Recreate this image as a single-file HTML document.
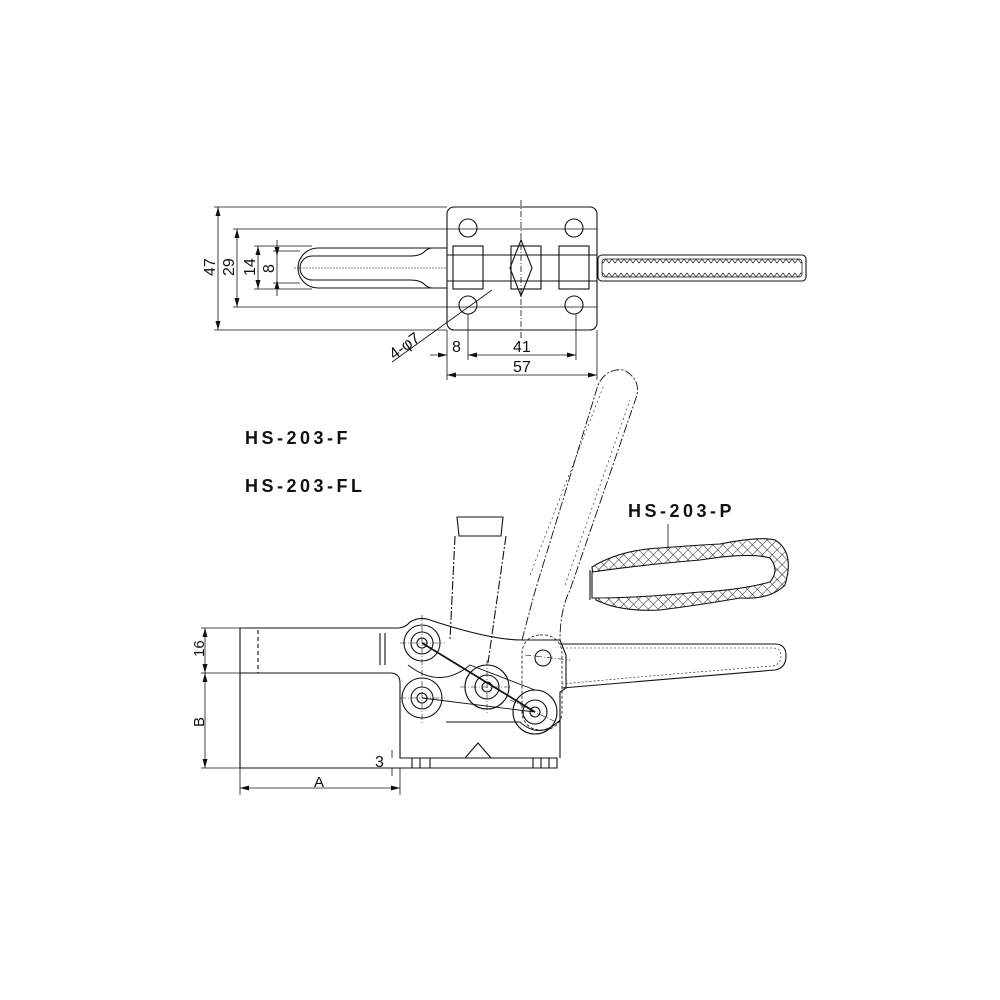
<!DOCTYPE html>
<html><head><meta charset="utf-8"><style>
html,body{margin:0;padding:0;background:#fff;}
svg{display:block;}
text{font-family:"Liberation Sans",sans-serif;fill:#111;}
.b{font-weight:bold;font-size:18px;letter-spacing:3.5px;}
</style></head><body>
<svg width="1000" height="1000" viewBox="0 0 1000 1000" xmlns="http://www.w3.org/2000/svg">
<defs>
<pattern id="hatch" width="7" height="7" patternUnits="userSpaceOnUse" patternTransform="rotate(45)">
<rect width="7" height="7" fill="#fff"/>
<path d="M0 0H7M0 0V7" stroke="#222" stroke-width="1"/>
</pattern>
<pattern id="zz" x="0" y="259" width="6" height="18" patternUnits="userSpaceOnUse">
<path d="M0 0 L3 4 L6 0 M0 18 L3 14 L6 18" fill="none" stroke="#222" stroke-width="0.7"/>
</pattern>
</defs>
<g fill="none" stroke="#111" stroke-width="1.1">
<!-- TOP VIEW -->
<rect x="447" y="207" width="150" height="123" rx="7"/>
<line x1="521" y1="200" x2="521" y2="340" stroke-dasharray="6,2,1,2" stroke-width="0.8"/>
<circle cx="468" cy="228" r="9"/><circle cx="574" cy="228" r="9"/>
<circle cx="468" cy="305" r="9"/><circle cx="574" cy="305" r="9"/>
<path d="M447 248 H432 Q428 248 424 252 Q420 256 410 256 H312 A12 12 0 0 0 312 280 H410 Q420 280 424 284 Q428 288 432 288 H447"/>
<path d="M318 248 A20 20 0 0 0 318 288" />
<line x1="318" y1="248" x2="432" y2="248"/><line x1="318" y1="288" x2="432" y2="288"/>
<line x1="294" y1="268" x2="447" y2="268" stroke-dasharray="2,1" stroke-width="0.6"/>
<rect x="453" y="246" width="30" height="43"/>
<rect x="511" y="246" width="30" height="43"/>
<rect x="559" y="246" width="30" height="43"/>
<line x1="447" y1="255" x2="597" y2="255"/><line x1="447" y1="281" x2="597" y2="281"/>
<path d="M521 240 L510 268 L521 296 L532 268Z"/>
<rect x="598" y="255" width="208" height="26" rx="4"/>
<rect x="602" y="259" width="200" height="18" rx="3" stroke-width="0.7" fill="url(#zz)"/>
<g stroke-width="0.8">
<line x1="214" y1="207" x2="447" y2="207"/><line x1="214" y1="330" x2="447" y2="330"/>
<line x1="233" y1="229" x2="597" y2="229"/><line x1="233" y1="307" x2="597" y2="307"/>
<line x1="254" y1="246" x2="312" y2="246"/><line x1="254" y1="289" x2="312" y2="289"/>
<line x1="273" y1="251" x2="300" y2="251"/><line x1="273" y1="283" x2="300" y2="283"/>
<line x1="218" y1="207" x2="218" y2="330"/><line x1="237" y1="229" x2="237" y2="307"/>
<line x1="258" y1="246" x2="258" y2="289"/><line x1="277" y1="240" x2="277" y2="296"/>
<line x1="447" y1="330" x2="447" y2="380"/><line x1="597" y1="330" x2="597" y2="380"/>
<line x1="468" y1="314" x2="468" y2="360"/><line x1="576" y1="314" x2="576" y2="360"/>
<line x1="430" y1="355" x2="447" y2="355"/>
<line x1="468" y1="355" x2="576" y2="355"/>
<line x1="447" y1="375" x2="597" y2="375"/>
<line x1="392" y1="362" x2="492" y2="290"/>
</g>
<!-- SIDE VIEW -->
<path d="M240 628 H398 Q405 628 410 622 Q420 616 430 620 Q490 640 522 640 H560 L566 655 V688 L560 692 V758"/>
<path d="M240 628 V768 H557 V758 H400 V683 Q400 673 390 673 H240"/>
<line x1="258" y1="630" x2="258" y2="673" stroke-dasharray="4,3"/>
<line x1="380" y1="633" x2="380" y2="665"/><line x1="385" y1="633" x2="385" y2="665"/>
<path d="M465 758 L478 743 L491 758"/>
<line x1="412" y1="758" x2="412" y2="768"/><line x1="420" y1="758" x2="420" y2="768"/><line x1="430" y1="758" x2="430" y2="768"/>
<line x1="533" y1="758" x2="533" y2="768"/><line x1="541" y1="758" x2="541" y2="768"/><line x1="549" y1="758" x2="549" y2="768"/>
<circle cx="422" cy="643" r="18"/><circle cx="422" cy="643" r="11"/><circle cx="422" cy="643" r="5"/>
<circle cx="422" cy="698" r="20"/><circle cx="422" cy="698" r="11"/><circle cx="422" cy="698" r="5"/>
<circle cx="487" cy="687" r="22"/><circle cx="487" cy="687" r="12"/><circle cx="487" cy="687" r="5"/>
<circle cx="535" cy="712" r="22"/><circle cx="535" cy="712" r="12"/><circle cx="535" cy="712" r="5"/>
<circle cx="543" cy="658" r="8"/>
<path d="M408 665 Q440 690 470 665 L535 690" stroke-width="0.9"/>
<line x1="422" y1="643" x2="535" y2="712" stroke-width="1.8"/>
<line x1="422" y1="698" x2="535" y2="712" stroke-width="0.9"/>
<path d="M446 722 H520 Q540 740 560 720" stroke-width="0.9"/>
<rect x="522" y="635" width="40" height="95" rx="18" stroke-dasharray="3,2" stroke-width="0.8"/>
<g stroke-width="0.6" stroke-dasharray="6,2,1,2">
<line x1="400" y1="643" x2="445" y2="643"/><line x1="422" y1="615" x2="422" y2="725"/>
<line x1="400" y1="698" x2="445" y2="698"/><line x1="460" y1="687" x2="512" y2="687"/>
<line x1="487" y1="660" x2="487" y2="715"/><line x1="510" y1="700" x2="560" y2="724"/>
<line x1="525" y1="655" x2="570" y2="660"/>
</g>
<path d="M560 644 H775 Q786 644 786 656 Q786 668 775 670 Q680 678 562 688" />
<path d="M562 648 H773 Q781 648 781 656 Q781 664 773 666 Q680 673 562 684" stroke-width="0.6" stroke-dasharray="2,2"/>
<path d="M522 640 Q535 590 540 575 L598 385 Q606 368 624 370 Q642 380 636 398 L570 590 Q560 610 560 640" stroke-dasharray="9,2,2,2" stroke-width="0.9"/>
<path d="M530 575 L604 385 M565 585 L630 400" stroke-dasharray="2,3" stroke-width="0.6"/>
<path d="M457 517 H503 L501 536 H459Z"/>
<line x1="455" y1="536" x2="450" y2="640" stroke-dasharray="9,2,2,2"/>
<line x1="506" y1="536" x2="488" y2="663" stroke-dasharray="9,2,2,2"/>
<path d="M592 567 Q620 550 660 548 Q700 545 720 544 Q760 536 775 540 Q795 552 785 585 Q770 600 740 598 Q700 605 660 610 Q620 612 596 600 Z" fill="url(#hatch)"/>
<path d="M592 572 Q640 565 700 560 Q750 552 770 558 Q780 570 770 582 Q740 590 700 592 Q640 598 592 598 Z" fill="#fff"/>
<line x1="590" y1="570" x2="590" y2="600"/>
<line x1="668" y1="524" x2="668" y2="548" stroke-width="0.8"/>
<g stroke-width="0.8">
<line x1="201" y1="628" x2="240" y2="628"/><line x1="201" y1="673" x2="240" y2="673"/><line x1="201" y1="768" x2="240" y2="768"/>
<line x1="205" y1="628" x2="205" y2="768"/>
<line x1="240" y1="768" x2="240" y2="795"/><line x1="400" y1="768" x2="400" y2="795"/>
<line x1="240" y1="788" x2="400" y2="788"/>
<line x1="392" y1="750" x2="392" y2="758"/><line x1="392" y1="768" x2="392" y2="776"/>
</g>
</g>
<g fill="#111">
<path d="M218 207 l-2.5 9 h5z M218 330 l-2.5 -9 h5z M237 229 l-2.5 9 h5z M237 307 l-2.5 -9 h5z"/>
<path d="M258 246 l-2.5 9 h5z M258 289 l-2.5 -9 h5z M277 256 l-2.5 -9 h5z M277 280 l-2.5 9 h5z"/>
<path d="M447 355 l-9 -2.5 v5z M468 355 l9 -2.5 v5z M576 355 l-9 -2.5 v5z M447 375 l9 -2.5 v5z M597 375 l-9 -2.5 v5z"/>
<path d="M205 628 l-2.5 9 h5z M205 673 l-2.5 -9 h5z M205 673 l-2.5 9 h5z M205 768 l-2.5 -9 h5z"/>
<path d="M240 788 l9 -2.5 v5z M400 788 l-9 -2.5 v5z"/>
</g>
<text x="0" y="0" font-size="16" transform="translate(215,276) rotate(-90)">47</text>
<text x="0" y="0" font-size="16" transform="translate(234,276) rotate(-90)">29</text>
<text x="0" y="0" font-size="16" transform="translate(255,276) rotate(-90)">14</text>
<text x="0" y="0" font-size="16" transform="translate(274,273) rotate(-90)">8</text>
<text x="452" y="352" font-size="16">8</text>
<text x="513" y="352" font-size="16">41</text>
<text x="513" y="372" font-size="16">57</text>
<text x="0" y="0" font-size="16" transform="translate(394,360) rotate(-36)">4-φ7</text>
<text x="0" y="0" font-size="15" transform="translate(204,657) rotate(-90)">16</text>
<text x="0" y="0" font-size="15" transform="translate(204,727) rotate(-90)">B</text>
<text x="314" y="787" font-size="15">A</text>
<text x="375" y="767" font-size="16">3</text>
<text x="245" y="444" class="b">HS-203-F</text>
<text x="245" y="492" class="b">HS-203-FL</text>
<text x="628" y="517" class="b">HS-203-P</text>
</svg>
</body></html>
